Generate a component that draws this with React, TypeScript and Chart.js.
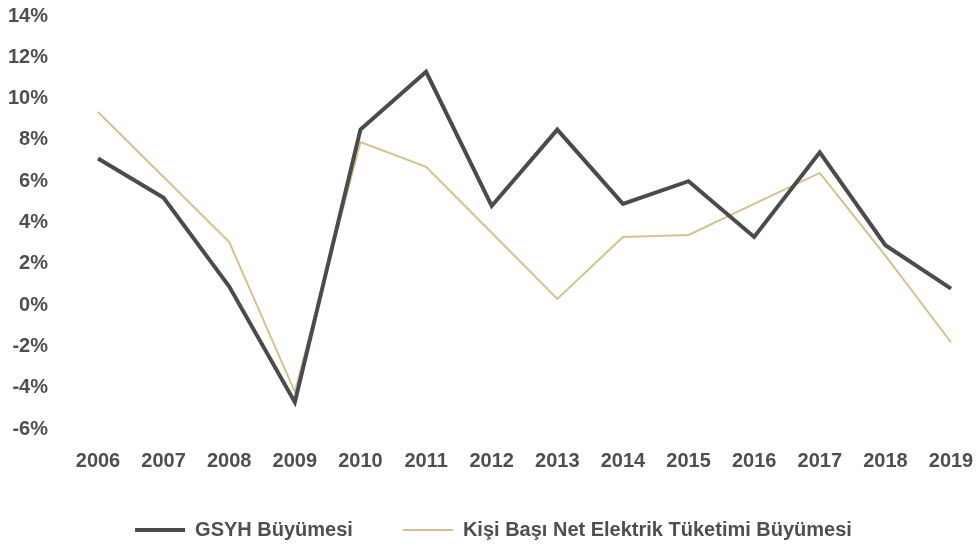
import React, { useEffect, useRef } from "react";
import { Chart, registerables } from "chart.js";

Chart.register(...registerables);

const years = ["2006", "2007", "2008", "2009", "2010", "2011", "2012", "2013", "2014", "2015", "2016", "2017", "2018", "2019"];
const gsyhGrowth = [7.1, 5.2, 0.9, -4.7, 8.5, 11.3, 4.8, 8.5, 4.9, 6.0, 3.3, 7.4, 2.9, 0.8];
const elecGrowth = [9.35, 6.2, 3.05, -4.2, 7.9, 6.7, 3.5, 0.3, 3.3, 3.4, 4.9, 6.4, 2.4, -1.8];
const seriesNames = ["GSYH Büyümesi", "Kişi Başı Net Elektrik Tüketimi Büyümesi"];

const TEXT = "#4f4f4f";
const FONT = "'Liberation Sans', Arial, sans-serif";

const legendShift = {
  id: "legendShift",
  afterLayout(chart: any) {
    if (chart.legend) {
      chart.legend.left += 18;
      chart.legend.right += 18;
    }
  },
};

export default function App() {
  const ref = useRef<HTMLCanvasElement>(null);
  useEffect(() => {
    if (!ref.current) return;
    const chart = new Chart(ref.current, {
      type: "line",
      data: {
        labels: years,
        datasets: [
          {
            label: seriesNames[0],
            data: gsyhGrowth,
            borderColor: "#4b4b4d",
            backgroundColor: "#4b4b4d",
            borderWidth: 4,
            pointRadius: 0,
            pointStyle: "line",
            tension: 0,
          },
          {
            label: seriesNames[1],
            data: elecGrowth,
            borderColor: "#d8c08e",
            backgroundColor: "#d8c08e",
            borderWidth: 2,
            pointRadius: 0,
            pointStyle: "line",
            tension: 0,
          },
        ],
      },
      plugins: [legendShift],
      options: {
        animation: false,
        responsive: true,
        maintainAspectRatio: false,
        layout: { padding: { top: 16, right: 28, bottom: 2, left: 0 } },
        plugins: {
          tooltip: { enabled: false },
          legend: {
            position: "bottom",
            labels: {
              usePointStyle: true,
              pointStyle: "line",
              pointStyleWidth: 50,
              padding: 50,
              color: TEXT,
              font: { family: FONT, size: 20, weight: "bold" },
            },
          },
        },
        scales: {
          x: {
            offset: false,
            grid: { display: false, drawTicks: false },
            border: { display: false },
            ticks: {
              color: TEXT,
              padding: 20,
              maxRotation: 0,
              autoSkip: false,
              font: { family: FONT, size: 20, weight: "bold" },
            },
            afterFit: (s: any) => {
              s.height = 41;
              s.paddingLeft = 0;
              s.paddingRight = 0;
            },
          },
          y: {
            min: -6,
            max: 14,
            grid: { display: false, drawTicks: false },
            border: { display: false },
            ticks: {
              stepSize: 2,
              color: TEXT,
              padding: 50,
              font: { family: FONT, size: 20, weight: "bold" },
              callback: (v: any) => `${v}%`,
            },
            afterFit: (s: any) => {
              s.width = 98;
              s.paddingTop = 12;
              s.paddingBottom = 12;
            },
          },
        },
      },
    });
    return () => chart.destroy();
  }, []);
  return (
    <div style={{ position: "fixed", left: 0, top: 0, width: 979, height: 552, background: "#fff" }}>
      <canvas ref={ref} />
    </div>
  );
}
